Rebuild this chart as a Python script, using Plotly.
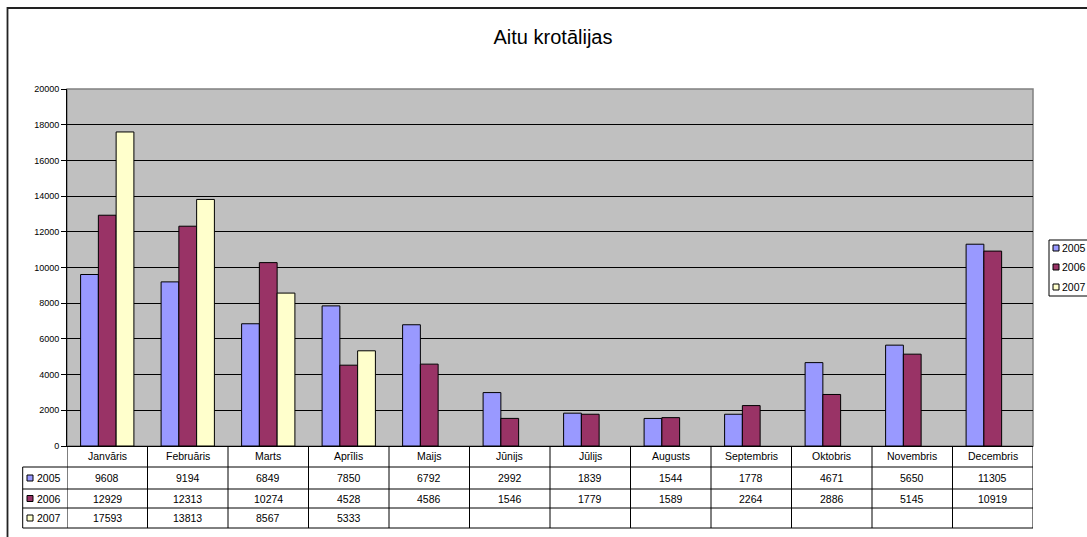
import plotly.graph_objects as go

months = ["Janvāris", "Februāris", "Marts", "Aprīlis", "Maijs", "Jūnijs",
          "Jūlijs", "Augusts", "Septembris", "Oktobris", "Novembris", "Decembris"]
years = ["2005", "2006", "2007"]
v2005 = [9608, 9194, 6849, 7850, 6792, 2992, 1839, 1544, 1778, 4671, 5650, 11305]
v2006 = [12929, 12313, 10274, 4528, 4586, 1546, 1779, 1589, 2264, 2886, 5145, 10919]
v2007 = [17593, 13813, 8567, 5333, None, None, None, None, None, None, None, None]
colors = ["#9999FF", "#993366", "#FFFFCC"]

series = [v2005, v2006, v2007]
FONT = "Liberation Sans, Arial, sans-serif"

FW, FH = 1087, 537
# plot area in screen pixels: x 67..1033, y 89..446
L, R, T, B = 67, 1033, 89, 446
W, H = R - L, B - T


def px_x(p):
    return (p - L) / W


def px_y(p):
    return (B - p) / H


fig = go.Figure()
for name, vals, col in zip(years, series, colors):
    fig.add_trace(go.Bar(x=list(range(len(months))), y=vals, name=name,
                         marker=dict(color=col, line=dict(color="black", width=1))))

shapes = []
annotations = []

# outer chart border
shapes.append(dict(type="rect", xref="paper", yref="paper",
                   x0=px_x(7.5), x1=px_x(1100), y0=px_y(560), y1=px_y(8),
                   line=dict(color="#222222", width=1.8)))
# plot area border (grey)
shapes.append(dict(type="rect", xref="paper", yref="paper", x0=0, x1=1, y0=0, y1=1,
                   line=dict(color="#808080", width=1.5), layer="below"))

# data table
row_lines = [467, 489, 508, 528]
row_centers = [478, 498.5, 518]
for i in range(len(months) + 1):
    shapes.append(dict(type="line", xref="x", yref="paper", x0=i - 0.5, x1=i - 0.5,
                       y0=0, y1=px_y(row_lines[-1]), line=dict(color="black", width=1)))
shapes.append(dict(type="line", xref="paper", yref="paper", x0=px_x(22.7), x1=px_x(22.7),
                   y0=px_y(row_lines[0]), y1=px_y(row_lines[-1]), line=dict(color="black", width=1)))
for yl in row_lines:
    shapes.append(dict(type="line", xref="paper", yref="paper", x0=px_x(22.7), x1=1,
                       y0=px_y(yl), y1=px_y(yl), line=dict(color="black", width=1)))

for i, m in enumerate(months):
    annotations.append(dict(x=i, y=px_y(456.5), xref="x", yref="paper", text=m,
                            xanchor="center", yanchor="middle", showarrow=False,
                            font=dict(size=10.5, color="black", family=FONT)))

for r, (name, vals, col) in enumerate(zip(years, series, colors)):
    yc = row_centers[r]
    shapes.append(dict(type="rect", xref="paper", yref="paper",
                       x0=px_x(27), x1=px_x(33), y0=px_y(yc + 3), y1=px_y(yc - 3),
                       fillcolor=col, line=dict(color="black", width=1)))
    annotations.append(dict(x=px_x(35), y=px_y(yc), xref="paper", yref="paper", text=name,
                            xanchor="left", yanchor="middle", showarrow=False,
                            font=dict(size=10.5, color="black", family=FONT)))
    for i, v in enumerate(vals):
        if v is not None:
            annotations.append(dict(x=i, y=px_y(yc), xref="x", yref="paper", text=str(v),
                                    xanchor="center", yanchor="middle", showarrow=False,
                                    font=dict(size=10.5, color="black", family=FONT)))

# legend (right side, clipped by the chart edge as in the original)
shapes.append(dict(type="rect", xref="paper", yref="paper",
                   x0=px_x(1049), x1=px_x(1110), y0=px_y(296), y1=px_y(240),
                   fillcolor="white", line=dict(color="black", width=1)))
for name, col, yc in zip(years, colors, [248, 267, 287]):
    shapes.append(dict(type="rect", xref="paper", yref="paper",
                       x0=px_x(1053), x1=px_x(1059), y0=px_y(yc + 3), y1=px_y(yc - 3),
                       fillcolor=col, line=dict(color="black", width=1)))
    annotations.append(dict(x=px_x(1060), y=px_y(yc), xref="paper", yref="paper", text=name,
                            xanchor="left", yanchor="middle", showarrow=False,
                            font=dict(size=10.5, color="black", family=FONT)))

fig.update_layout(
    width=FW, height=FH,
    margin=dict(l=L, r=FW - R, t=T, b=FH - B, autoexpand=False),
    paper_bgcolor="white", plot_bgcolor="#C0C0C0",
    title=dict(text="Aitu krotālijas", x=px_x(553), xref="paper", xanchor="center",
               y=1 - 37 / FH, yanchor="middle",
               font=dict(size=20, color="black", family=FONT)),
    barmode="group", bargap=0.338, bargroupgap=0,
    showlegend=False,
    shapes=shapes, annotations=annotations,
    font=dict(family=FONT, color="black"),
)
fig.update_xaxes(range=[-0.5, 11.5], showticklabels=False, showgrid=False,
                 showline=True, linecolor="black", linewidth=1, zeroline=False)
fig.update_yaxes(range=[0, 20000], dtick=2000, tickformat="d",
                 showgrid=True, gridcolor="black", gridwidth=1,
                 showline=True, linecolor="black", linewidth=1, ticks="outside", ticklen=5,
                 tickcolor="black", tickfont=dict(size=9, family=FONT, color="black"),
                 zeroline=False)

# drop the default page margin so the figure sits at the window's corner
fig.write_html("out.html", config={"displayModeBar": False},
               post_script="document.body.style.margin='0';document.body.style.overflow='hidden';")
